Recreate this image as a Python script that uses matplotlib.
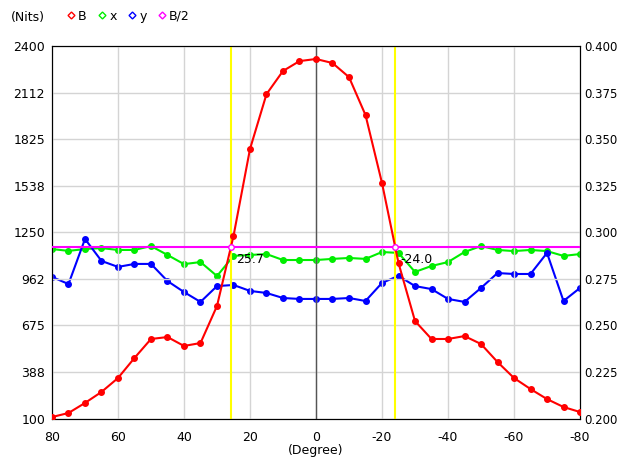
import numpy as np
import matplotlib.pyplot as plt
from matplotlib.lines import Line2D

plt.rcParams['font.family'] = 'DejaVu Sans'
plt.rcParams['axes.unicode_minus'] = False

deg = [80, 75, 70, 65, 60, 55, 50, 45, 40, 35, 30, 25, 20, 15, 10, 5, 0,
       -5, -10, -15, -20, -25, -30, -35, -40, -45, -50, -55, -60, -65, -70, -75, -80]

# luminance in nits (left axis)
B = [109, 134, 196, 264, 350, 474, 591, 603, 548, 566, 795, 1227, 1764, 2103, 2246, 2307, 2320,
     2295, 2208, 1974, 1554, 1060, 702, 591, 591, 609, 560, 449, 350, 282, 220, 171, 140]

# chromaticity (right axis)
cx = [0.2910, 0.2900, 0.2910, 0.2915, 0.2905, 0.2905, 0.2926, 0.2878, 0.2829, 0.2840, 0.2765,
      0.2873, 0.2878, 0.2883, 0.2851, 0.2851, 0.2851, 0.2857, 0.2862, 0.2857, 0.2894, 0.2889,
      0.2787, 0.2819, 0.2840, 0.2894, 0.2926, 0.2905, 0.2899, 0.2905, 0.2899, 0.2873, 0.2883]
cy = [0.2760, 0.2722, 0.2964, 0.2846, 0.2814, 0.2830, 0.2830, 0.2738, 0.2679, 0.2626, 0.2711,
      0.2717, 0.2685, 0.2674, 0.2647, 0.2642, 0.2642, 0.2642, 0.2647, 0.2631, 0.2728, 0.2766,
      0.2711, 0.2695, 0.2642, 0.2626, 0.2701, 0.2781, 0.2776, 0.2776, 0.2889, 0.2631, 0.2701]

half = 1160
half_left, half_right = 25.7, -24.0

left_ticks = [100, 388, 675, 962, 1250, 1538, 1825, 2112, 2400]
right_ticks = [0.200, 0.225, 0.250, 0.275, 0.300, 0.325, 0.350, 0.375, 0.400]
x_ticks = [80, 60, 40, 20, 0, -20, -40, -60, -80]

fig = plt.figure(figsize=(6.19, 4.65), dpi=100)
ax = fig.add_axes([0.084, 0.100, 0.853, 0.801])
ax2 = ax.twinx()

ax.set_xlim(80, -80)
ax.set_ylim(100, 2400)
ax2.set_ylim(0.2, 0.4)
ax.set_xticks(x_ticks)
ax.set_yticks(left_ticks)
ax2.set_yticks(right_ticks)
ax2.set_yticklabels(['%.3f' % v for v in right_ticks])
ax.grid(True, color='#d4d4d4', lw=1)
ax.axvline(0, color='#555555', lw=1)

ax.tick_params(axis='y', length=0, labelsize=9, pad=5)
ax.tick_params(axis='x', length=0, labelsize=9, pad=9)
ax2.tick_params(length=0, labelsize=8.5, pad=3)
for a in (ax, ax2):
    for s in a.spines.values():
        s.set_color('black')

ax.axvline(half_left, color='yellow', lw=1.5)
ax.axvline(half_right, color='yellow', lw=1.5)
ax.axhline(half, color='magenta', lw=1.5, zorder=3)

ax2.plot(deg, cx, color='#00ee00', marker='o', ms=4, lw=1.5)
ax2.plot(deg, cy, color='blue', marker='o', ms=4, lw=1.5)
ax.plot(deg, B, color='red', marker='o', ms=4, lw=1.5, zorder=4)
ax.set_zorder(ax2.get_zorder() + 1)
ax.patch.set_visible(False)

ax.plot([half_left, half_right], [half, half], ls='none', marker='o', ms=4,
        mfc='white', mec='magenta', zorder=5)
ax.text(half_left - 1.5, half - 40, '%.1f' % half_left, fontsize=9, va='top', zorder=6)
ax.text(half_right - 1.5, half - 40, '%.1f' % half_right, fontsize=9, va='top', zorder=6)

ax.set_xlabel('(Degree)', fontsize=9, labelpad=0)

fig.text(0.018, 0.962, '(Nits)', fontsize=9, va='center')
handles = [Line2D([], [], ls='none', marker='D', ms=3.5, mfc='white', mec=c, label=l)
           for c, l in [('red', 'B'), ('#00ee00', 'x'), ('blue', 'y'), ('magenta', 'B/2')]]
fig.legend(handles=handles, ncol=4, loc='center left', bbox_to_anchor=(0.09, 0.965),
           frameon=False, fontsize=9, handlelength=0.6, handletextpad=0.3, columnspacing=0.9)

fig.savefig('out.png', dpi=100, facecolor='white')
